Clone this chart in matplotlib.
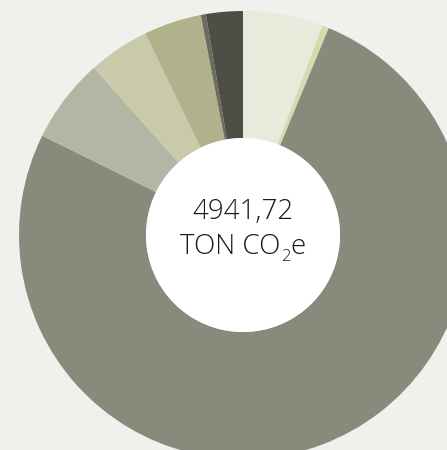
import matplotlib
matplotlib.use("Agg")
import matplotlib.pyplot as plt
from matplotlib.patches import Circle

# emissions per category, ton CO2e
labels = ["A", "B", "C", "D", "E", "F", "G", "H"]
values = [285.6, 23.3, 3758.6, 302.0, 217.0, 206.0, 18.0, 131.2]
colors = ["#e9eadc", "#d5dbae", "#8a8a7c", "#b3b5a5", "#c9caa9", "#b0b28b", "#6b6b5e", "#4e4d46"]
total_text = "4941,72"

bg = "#f0f1ed"
fig = plt.figure(figsize=(4.47, 4.50), dpi=100, facecolor=bg)
ax = fig.add_axes([0, 0, 1, 1])
ax.set_facecolor(bg)

R = 224
r_in = 97
ax.pie(values, colors=colors, radius=R, startangle=90, counterclock=False,
       wedgeprops=dict(width=R - r_in, linewidth=0))
ax.add_patch(Circle((0, 0), r_in, facecolor="white", edgecolor="none", zorder=5))

ax.set_xlim(-243, 447 - 243)
ax.set_ylim(-(450 - 235), 235)
ax.set_aspect("equal")
ax.axis("off")

font = dict(family=["Open Sans", "DejaVu Sans"], fontweight="light", color="#1a1a1a")
ax.text(0, 235 - 212, total_text, ha="center", va="center", fontsize=20, zorder=6, **font)

# second line: "TON CO" + subscript 2 + "e", placed piece by piece
fig.canvas.draw()
r = fig.canvas.get_renderer()
y2 = 235 - 244
parts = [("TON CO", 20, 0), ("2", 12, -7), ("e", 20, 0)]
widths = []
tmp = []
for s, fs, dy in parts:
    t = ax.text(0, y2, s, fontsize=fs, va="baseline", **font)
    tmp.append(t)
    widths.append(t.get_window_extent(r).width)
for t in tmp:
    t.remove()
x = -sum(widths) / 2
base = y2 - 10
for (s, fs, dy), w in zip(parts, widths):
    ax.text(x, base + dy, s, fontsize=fs, va="baseline", ha="left", zorder=6, **font)
    x += w

fig.savefig("out.png", dpi=100, facecolor=bg)
